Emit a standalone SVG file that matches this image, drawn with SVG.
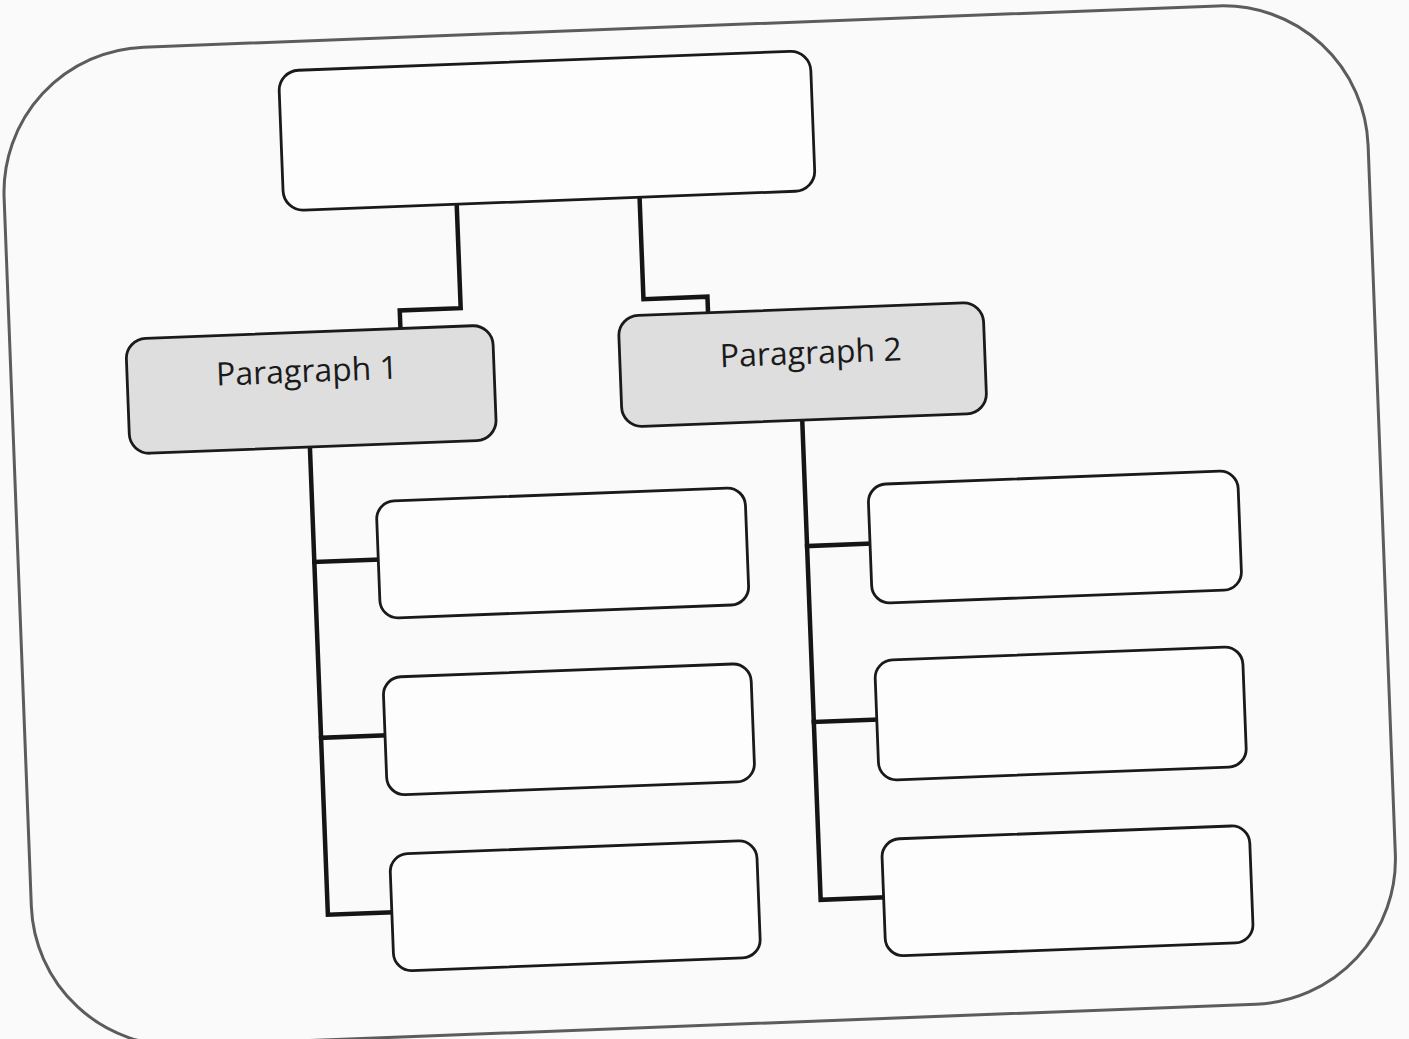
<svg xmlns="http://www.w3.org/2000/svg" width="1409" height="1039" viewBox="0 0 1409 1039">
  <defs>
    <style>
      .frame { fill: none; stroke: #5c5c5c; stroke-width: 3; }
      .box { fill: #fdfdfd; stroke: #1a1a1a; stroke-width: 2.8; }
      .para { fill: #dedede; stroke: #1a1a1a; stroke-width: 2.8; }
      .conn { fill: none; stroke: #151515; stroke-width: 4.5; stroke-linejoin: miter; stroke-linecap: square; }
      .label { font-family: "Open Sans", "Noto Sans", "Liberation Sans", sans-serif; font-size: 32px; fill: #1a1a1a; text-anchor: middle; }
    </style>
  </defs>
  <rect x="0" y="0" width="1409" height="1039" fill="#fafafa"/>
  <g transform="rotate(-2.2 704 520)">
    <rect id="frame" class="frame" x="17" y="26" width="1365" height="999" rx="145" ry="145"/>
    <g id="connectors">
      <path class="conn" d="M469,195 V299 H408 V317"/>
      <path class="conn" d="M652,195 V297 H716 V314"/>
      <path class="conn" d="M313,432 V900 H377"/>
      <path class="conn" d="M313,547 H377"/>
      <path class="conn" d="M313,723 H377"/>
      <path class="conn" d="M806,424 V904 H869"/>
      <path class="conn" d="M806,550 H869"/>
      <path class="conn" d="M806,726 H869"/>
    </g>
    <g id="top"><rect class="box" x="296" y="55" width="532" height="140" rx="20"/></g>
    <g id="p1">
      <rect class="para" x="133" y="317" width="367" height="115" rx="20"/>
      <text class="label" x="313" y="367">Paragraph 1</text>
    </g>
    <g id="p2">
      <rect class="para" x="626" y="313" width="365" height="111" rx="20"/>
      <text class="label" x="817" y="368">Paragraph 2</text>
    </g>
    <g id="l1"><rect class="box" x="377" y="489" width="369" height="117" rx="18"/></g>
    <g id="l2"><rect class="box" x="377" y="665" width="368" height="118" rx="18"/></g>
    <g id="l3"><rect class="box" x="377" y="842" width="367" height="117" rx="18"/></g>
    <g id="r1"><rect class="box" x="869" y="491" width="370" height="119" rx="18"/></g>
    <g id="r2"><rect class="box" x="869" y="667" width="368" height="120" rx="18"/></g>
    <g id="r3"><rect class="box" x="869" y="846" width="368" height="117" rx="18"/></g>
  </g>
</svg>
